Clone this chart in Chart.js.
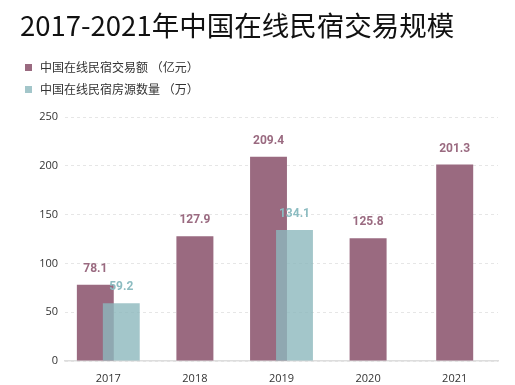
<!DOCTYPE html>
<html>
<head>
<meta charset="utf-8">
<script src="https://cdn.jsdelivr.net/npm/chart.js@4/dist/chart.umd.min.js"></script>
<style>
  body { margin: 0; background: #fff; }
  #wrap { position: relative; width: 515px; height: 385px; }
  #chart { position: absolute; left: 0; top: 0; }
  .title {
    position: absolute; left: 20px; top: 4px;
    font: 27.5px "Noto Sans CJK SC", "Noto Sans", sans-serif; color: #111;
    white-space: nowrap;
  }
  .legend { position: absolute; left: 25px; top: 57px; font: 12px "Noto Sans CJK SC", sans-serif; color: #333; }
  .legend div { height: 22px; line-height: 19px; white-space: nowrap; }
  .legend span { display: inline-block; width: 7px; height: 7px; margin-right: 8px; vertical-align: 1px; }
</style>
</head>
<body>
<div id="wrap">
  <canvas id="chart" width="515" height="385"></canvas>
  <div class="title">2017-2021年中国在线民宿交易规模</div>
  <div class="legend" id="legend"></div>
</div>
<script>
// data
const years = ['2017', '2018', '2019', '2020', '2021']
const tradeVolume = [78.1, 127.9, 209.4, 125.8, 201.3]     // 亿元
const listings = [59.2, null, 134.1, null, null]            // 万
const seriesNames = ['中国在线民宿交易额 （亿元）', '中国在线民宿房源数量 （万）']

const purple = '#9a6a80'
const teal = 'rgba(140,184,189,0.8)'
const tealText = '#8cbcc1'

// legend as html, two rows
const legend = document.getElementById('legend')
;[[purple, seriesNames[0]], ['#a3c6ca', seriesNames[1]]].forEach(function (it) {
  const row = document.createElement('div')
  row.innerHTML = '<span style="background:' + it[0] + '"></span>' + it[1]
  legend.appendChild(row)
})

// chart.js paints dataset 0 on top; we want the teal one over the purple,
// so skip it in the normal pass and paint it afterwards
const tealOnTop = {
  id: 'tealOnTop',
  beforeDatasetDraw(chart, args) {
    if (args.index === 1) return false
  },
  afterDatasetsDraw(chart) {
    const ctx = chart.ctx
    const area = chart.chartArea
    ctx.save()
    ctx.beginPath()
    ctx.rect(area.left, area.top - 20, area.right - area.left, area.bottom - area.top + 20)
    ctx.clip()
    chart.getDatasetMeta(1).controller.draw()
    ctx.restore()
  }
}

// value labels on top of each bar
const valueLabels = {
  id: 'valueLabels',
  afterDatasetsDraw(chart) {
    const ctx = chart.ctx
    ctx.save()
    ctx.font = 'bold 12px Roboto, sans-serif'
    ctx.textAlign = 'center'
    ctx.textBaseline = 'middle'
    chart.data.datasets.forEach(function (ds, i) {
      const meta = chart.getDatasetMeta(i)
      ctx.fillStyle = i === 0 ? purple : tealText
      meta.data.forEach(function (bar, j) {
        const v = ds.data[j]
        if (v === null) return
        ctx.fillText(v.toFixed(1), bar.x, bar.y - 16)
      })
    })
    ctx.restore()
  }
}

new Chart(document.getElementById('chart'), {
  type: 'bar',
  data: {
    labels: years,
    datasets: [
      { label: seriesNames[0], data: tradeVolume, backgroundColor: purple },
      { label: seriesNames[1], data: listings, backgroundColor: teal }
    ]
  },
  options: {
    responsive: false,
    animation: false,
    skipNull: true,
    categoryPercentage: 0.6,
    barPercentage: 1.42,
    maxBarThickness: 37,
    layout: { padding: { top: 117, right: 17, left: 0, bottom: 0 } },
    plugins: { legend: { display: false }, title: { display: false }, tooltip: { enabled: false } },
    scales: {
      x: {
        grid: { display: false },
        border: { color: '#dddddd', width: 1.5 },
        ticks: { color: '#333', font: { size: 11, family: '"Open Sans", sans-serif' }, padding: 3 },
        afterFit: function (s) { s.height = 24 }
      },
      y: {
        min: 0, max: 250,
        ticks: { stepSize: 50, color: '#333', font: { size: 11, family: '"Open Sans", sans-serif' }, padding: 7 },
        grid: { color: '#e6e6e6', drawTicks: false },
        border: { display: false, dash: [3, 3] },
        afterFit: function (s) { s.width = 65 }
      }
    }
  },
  plugins: [tealOnTop, valueLabels]
})
</script>
</body>
</html>
